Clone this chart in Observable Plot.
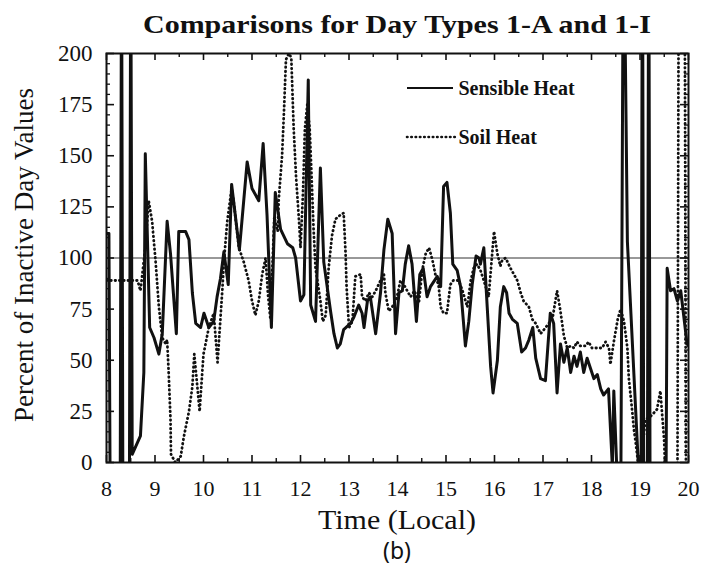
<!DOCTYPE html>
<html><head><meta charset="utf-8">
<script src="https://cdn.jsdelivr.net/npm/d3@7"></script>
<script src="https://cdn.jsdelivr.net/npm/@observablehq/plot@0.6"></script>
<style>
body{margin:0;background:#fff;}
#wrap{position:relative;width:703px;height:575px;font-family:"Liberation Serif",serif;color:#111;}
svg{display:block;}
</style></head><body><div id="wrap"></div>
<script>
// ---- text ----
const titleText = "Comparisons for Day Types 1-A and 1-I";
const xTitle = "Time (Local)";
const yTitle = "Percent of Inactive Day Values";
const panelTag = "(b)";
const seriesNames = ["Sensible Heat", "Soil Heat"];

// ---- ticks ----
const xTickLabels = [8,9,10,11,12,13,14,15,16,17,18,19,20];
const xHalfTicks = [8.5,9.5,10.5,11.5,12.5,13.5,14.5,15.5,16.5,17.5,18.5,19.5];
const yTickLabels = [0,25,50,75,100,125,150,175,200];
const yMinorTicks = [5,10,15,20,30,35,40,45,55,60,65,70,80,85,90,95,105,110,115,120,130,135,140,145,155,160,165,170,180,185,190,195];
const referenceLevel = [100];

// ---- Sensible heat (solid) ----
const sensibleHour = [8.00,8.05,8.08,8.28,8.31,8.34,8.47,8.50,8.53,8.70,8.77,8.80,8.89,8.98,9.08,9.15,9.25,9.32,9.44,9.49,9.63,9.70,9.77,9.84,9.94,10.01,10.11,10.21,10.28,10.35,10.42,10.51,10.58,10.62,10.74,10.90,11.00,11.14,11.23,11.31,11.40,11.48,11.59,11.73,11.84,11.90,12.00,12.07,12.16,12.21,12.31,12.41,12.48,12.62,12.69,12.76,12.82,12.89,13.03,13.10,13.20,13.27,13.31,13.38,13.44,13.55,13.65,13.72,13.80,13.89,13.96,14.03,14.10,14.16,14.23,14.30,14.39,14.46,14.53,14.61,14.68,14.82,14.89,14.95,15.02,15.09,15.14,15.23,15.30,15.40,15.47,15.54,15.62,15.68,15.71,15.78,15.85,15.92,15.97,16.06,16.12,16.19,16.25,16.30,16.37,16.47,16.56,16.64,16.71,16.79,16.85,16.95,17.05,17.15,17.22,17.29,17.36,17.43,17.50,17.57,17.64,17.70,17.77,17.84,17.91,17.98,18.05,18.12,18.19,18.25,18.35,18.43,18.46,18.52,18.60,18.66,18.74,18.97,19.02,19.05,19.08,19.15,19.18,19.21,19.53,19.56,19.63,19.70,19.77,19.84,19.90,19.97,20.00];
const sensiblePct = [112,112,-40,-40,260,-40,-40,260,4,13,44,151,66,61,53,63,118,102,63,113,113,109,83,68,66,73,66,69,81,90,103,87,136,128,104,147,134,128,156,121,66,132,114,107,105,100,79,82,187,77,69,144,98,74,63,56,58,65,68,71,77,73,66,79,81,63,83,104,119,112,63,83,84,97,106,97,69,92,95,81,86,91,86,135,137,122,97,94,86,57,69,87,101,100,97,105,76,47,34,50,76,86,83,73,70,68,54,56,60,66,51,41,40,73,68,34,58,49,56,44,52,47,54,44,51,46,41,43,36,33,36,-2,35,-2,-40,280,108,-3,-40,280,-40,-40,280,-40,-40,95,84,85,79,84,72,58,57];

// ---- Soil heat (dotted) ----
const soilHour = [8.00,8.30,8.64,8.70,8.80,8.87,8.94,9.01,9.08,9.15,9.22,9.25,9.28,9.32,9.33,9.42,9.53,9.59,9.70,9.77,9.81,9.92,10.00,10.11,10.21,10.29,10.39,10.42,10.49,10.58,10.62,10.73,10.83,10.93,11.00,11.07,11.14,11.21,11.28,11.33,11.38,11.46,11.53,11.55,11.62,11.66,11.70,11.76,11.81,11.86,11.91,11.97,12.00,12.05,12.09,12.14,12.19,12.23,12.27,12.31,12.36,12.41,12.46,12.52,12.58,12.65,12.72,12.82,12.89,12.93,12.95,13.00,13.07,13.13,13.24,13.27,13.34,13.41,13.48,13.55,13.65,13.72,13.75,13.82,13.89,13.99,14.06,14.13,14.20,14.27,14.35,14.44,14.51,14.58,14.65,14.72,14.78,14.85,14.89,14.95,15.02,15.09,15.15,15.26,15.34,15.44,15.51,15.57,15.64,15.71,15.78,15.88,15.99,16.06,16.12,16.16,16.23,16.33,16.40,16.47,16.54,16.60,16.71,16.78,16.85,16.95,17.02,17.12,17.20,17.29,17.36,17.43,17.50,17.57,17.64,17.70,17.77,17.88,17.94,18.01,18.08,18.15,18.22,18.29,18.36,18.39,18.46,18.54,18.60,18.67,18.74,18.77,18.84,18.87,18.91,18.96,19.01,19.11,19.24,19.35,19.42,19.50,19.55,19.77,19.80,19.92,19.95,20.00];
const soilPct = [89,89,89,84,105,128,118,99,76,61,58,60,45,21,4,0,3,12,25,37,53,25,53,66,73,49,85,98,118,134,128,105,98,89,79,72,79,92,100,82,70,120,113,128,150,172,197,200,198,163,139,118,105,131,163,175,163,139,114,95,87,79,69,72,95,111,119,121,122,102,86,66,69,91,92,81,79,83,81,84,89,92,83,74,76,81,89,87,84,81,84,78,94,102,105,99,92,86,76,73,73,87,89,89,84,76,89,95,97,94,89,81,113,102,96,99,100,95,92,89,83,79,76,70,68,63,65,68,71,84,74,62,56,57,56,59,57,57,59,56,56,56,56,59,56,48,59,70,75,69,56,41,25,17,10,0,-4,21,23,26,35,10,-30,-30,260,260,-30,-30];

const sensible = sensibleHour.map((t, i) => ({t, v: sensiblePct[i]}));
const soil = soilHour.map((t, i) => ({t, v: soilPct[i]}));

// ---- layout ----
const W = 703, topH = 40, plotH = 464;
const mT = 13, mB = 42, mL = 106, mR = 15;
const frameW = W - mL - mR, frameH = plotH - mT - mB;
const ink = "#111";
const dots = "0.5,3.8";

const wrap = d3.select("#wrap");

// title
const tsvg = wrap.append("svg").attr("width", W).attr("height", topH);
tsvg.append("text").attr("x", 397).attr("y", 33).attr("text-anchor", "middle")
  .attr("font-family", "Liberation Serif").attr("font-weight", "bold").attr("font-size", 26)
  .attr("textLength", 508).attr("lengthAdjust", "spacingAndGlyphs").attr("fill", ink)
  .text(titleText);

const chart = Plot.plot({
  width: W, height: plotH,
  marginTop: mT, marginBottom: mB, marginLeft: mL, marginRight: mR,
  style: {fontFamily: "Liberation Serif", background: "white", color: ink},
  x: {domain: [8, 20]},
  y: {domain: [0, 200]},
  marks: [
    Plot.ruleY(referenceLevel, {stroke: "#333", strokeWidth: 1}),
    Plot.line(soil, {x: "t", y: "v", stroke: ink, strokeWidth: 2.8, strokeDasharray: dots, strokeLinecap: "round", clip: true}),
    Plot.line(sensible, {x: "t", y: "v", stroke: ink, strokeWidth: 3, strokeLinejoin: "round", clip: true}),
    // inward ticks
    Plot.tickX(xTickLabels, {x: d => d, insetTop: frameH - 7, stroke: ink, strokeWidth: 1.6}),
    Plot.tickX(xTickLabels, {x: d => d, insetBottom: frameH - 7, stroke: ink, strokeWidth: 1.6}),
    Plot.tickX(xHalfTicks, {x: d => d, insetTop: frameH - 4, stroke: ink, strokeWidth: 1.4}),
    Plot.tickX(xHalfTicks, {x: d => d, insetBottom: frameH - 4, stroke: ink, strokeWidth: 1.4}),
    Plot.tickY(yTickLabels, {y: d => d, insetRight: frameW - 8, stroke: ink, strokeWidth: 1.6}),
    Plot.tickY(yTickLabels, {y: d => d, insetLeft: frameW - 8, stroke: ink, strokeWidth: 1.6}),
    Plot.tickY(yMinorTicks, {y: d => d, insetRight: frameW - 4, stroke: ink, strokeWidth: 1.3}),
    Plot.tickY(yMinorTicks, {y: d => d, insetLeft: frameW - 4, stroke: ink, strokeWidth: 1.3}),
    Plot.frame({stroke: ink, strokeWidth: 2}),
    Plot.axisX({ticks: xTickLabels, tickSize: 0, tickPadding: 18, fontSize: 22, label: null, tickFormat: d => String(d)}),
    Plot.axisY({ticks: yTickLabels, tickSize: 0, tickPadding: 14, fontSize: 23, label: null, tickFormat: d => String(d)}),
    Plot.text([seriesNames[0]], {frameAnchor: "top-left", dx: 352, dy: 35, lineAnchor: "middle", textAnchor: "start", fontSize: 20, fontWeight: "bold", fill: ink}),
    Plot.text([seriesNames[1]], {frameAnchor: "top-left", dx: 352, dy: 84, lineAnchor: "middle", textAnchor: "start", fontSize: 20, fontWeight: "bold", fill: ink}),
    Plot.text([yTitle], {frameAnchor: "left", dx: -82, dy: -3, rotate: -90, textAnchor: "middle", lineAnchor: "middle", fontSize: 27, fill: ink, ariaLabel: "ytitle"})
  ]
});
wrap.node().appendChild(chart);

const svg = d3.select(chart);
svg.selectAll('g[aria-label="ytitle"] text').attr("textLength", 372).attr("lengthAdjust", "spacingAndGlyphs");
// legend keys (annotation, pixel placed relative to frame)
const lg = svg.append("g");
lg.append("line").attr("x1", mL + 301).attr("x2", mL + 347).attr("y1", mT + 35).attr("y2", mT + 35)
  .attr("stroke", ink).attr("stroke-width", 2);
lg.append("line").attr("x1", mL + 301).attr("x2", mL + 349).attr("y1", mT + 84).attr("y2", mT + 84)
  .attr("stroke", ink).attr("stroke-width", 2.6).attr("stroke-dasharray", dots).attr("stroke-linecap", "round");

// bottom titles
const bsvg = wrap.append("svg").attr("width", W).attr("height", 575 - topH - plotH);
bsvg.append("text").attr("x", 397).attr("y", 25).attr("text-anchor", "middle")
  .attr("font-family", "Liberation Serif").attr("font-size", 28).attr("fill", ink)
  .attr("textLength", 158).attr("lengthAdjust", "spacingAndGlyphs").text(xTitle);
bsvg.append("text").attr("x", 397).attr("y", 55).attr("text-anchor", "middle")
  .attr("font-family", "Noto Sans").attr("font-size", 23).attr("fill", ink).text(panelTag);
</script>
</body></html>
